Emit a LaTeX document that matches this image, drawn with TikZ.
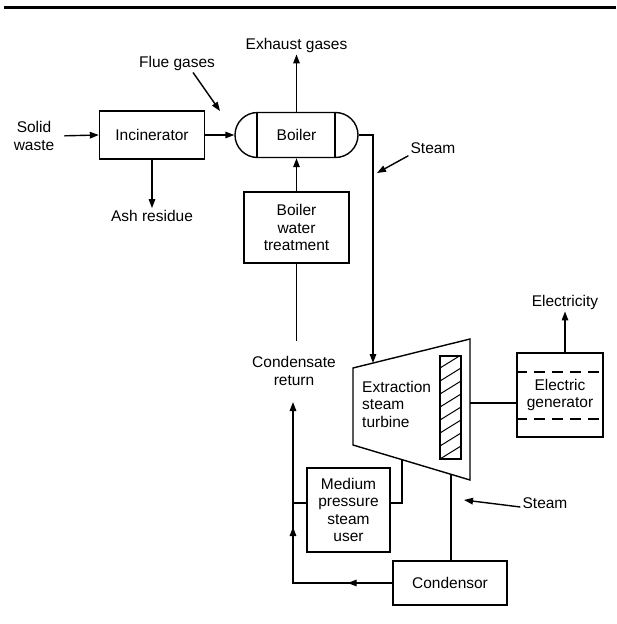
\documentclass[tikz,border=0pt]{standalone}
\usepackage{fontspec}
\setmainfont{Liberation Sans}
\usetikzlibrary{arrows.meta,positioning,calc,shapes.misc}
\tikzset{
  >={Triangle[length=9pt,width=6.5pt]},
  box/.style={draw,line width=1.4pt,align=center,inner sep=2pt},
  lab/.style={align=center,inner sep=2pt},
  flow/.style={line width=1.4pt},
  arr/.style={->,line width=1.4pt},
  gendash/.style={flow,dash pattern=on 11pt off 7pt},
}

\begin{document}
\begin{tikzpicture}[x=1pt,y=-1pt,every node/.style={font=\fontsize{15.5}{17.5}\selectfont}]
\useasboundingbox (0,0) rectangle (616,624);
\draw[line width=3pt] (4,7) -- (616,7);

% incinerator and boiler
\node[lab] (sw) at (34,136) {Solid\\waste};
\node[box,minimum width=105pt,minimum height=48pt] (inc) at (152,135) {Incinerator};
\node[box,rounded rectangle,minimum width=123pt,minimum height=45pt,inner sep=0pt] (boiler) at (296.5,135) {Boiler};
\draw[flow] ([xshift=-39.5pt]boiler.north) -- ([xshift=-39.5pt]boiler.south);
\draw[flow] ([xshift=38.5pt]boiler.north) -- ([xshift=38.5pt]boiler.south);
\node[lab] (ash) at (152,216) {Ash residue};
\node[lab] (exh) at (296.5,45) {Exhaust gases};
\node[lab] (flue) at (177,63) {Flue gases};
\coordinate (fluetip) at (220,111);
\node[box,minimum width=105pt,minimum height=71pt] (bwt) at (296.5,227.5) {Boiler\\water\\treatment};
\node[lab] (cret) at (294,371) {Condensate\\return};

\draw[arr,shorten <=8pt] (sw.east) -- (inc.west);
\draw[arr] (inc.east) -- (boiler.west);
\draw[arr] (inc.south) -- (ash.north);
\draw[arr] (boiler.north) -- (exh.south);
\draw[arr] ([xshift=16pt]flue.south) -- (fluetip);
\draw[arr] (bwt.north) -- (boiler.south);
\draw[flow] (bwt.south) -- ++(0,77);

% turbine
\coordinate (ta) at (353,368);
\coordinate (tb) at (470,339);
\coordinate (tc) at (470,480);
\coordinate (td) at (353,445);
\draw[flow] (ta) -- (tb) -- (tc) -- (td) -- cycle;
\draw[flow] (440,356) rectangle (461,459);
\begin{scope}
\clip (440,356) rectangle (461,459);
\foreach \k in {0,...,8} \draw[line width=1pt] (440,368+\k*13) -- (461,355+\k*13);
\end{scope}
\node[lab,align=left,anchor=west] (turb) at (360,404) {Extraction\\steam\\turbine};
\coordinate (tin) at (373,363);
\coordinate (tsh) at (470,403);
\coordinate (tb1) at (402,460);
\coordinate (tb2) at (451,474);

\node[lab] (st1) at (433,148) {Steam};
\coordinate (st1tip) at (377,173);
\draw[arr] (boiler.east) -| (tin);
\draw[arr] (st1.south west) -- (st1tip);

% generator
\node[box,minimum width=86pt,minimum height=84pt] (gen) at (560,395) {Electric\\generator};
\draw[gendash] ([yshift=23pt]gen.west) -- ([yshift=23pt]gen.east);
\draw[gendash] ([yshift=-24pt]gen.west) -- ([yshift=-24pt]gen.east);
\node[lab] (elec) at (565,302) {Electricity};
\draw[flow] (tsh) -- (tsh -| gen.west);
\draw[arr] (gen.north -| elec) -- (elec.south);

% steam users and condensate loop
\node[box,minimum width=83pt,minimum height=84pt] (mpsu) at (348.5,510) {Medium\\pressure\\steam\\user};
\node[box,minimum width=114pt,minimum height=44pt] (cdr) at (450,583) {Condensor};
\node[lab] (st2) at (545,503) {Steam};
\coordinate (st2tip) at (464,500);
\coordinate (lc) at (293,583);
\coordinate (jn) at (293,503);
\coordinate (rtip) at (293,402);

\draw[flow] (tb1) |- ([yshift=7pt]mpsu.east);
\draw[flow] ([yshift=7pt]mpsu.west) -- (jn);
\draw[flow] (tb2) -- (tb2 |- cdr.north);
\draw[arr] ([yshift=-4pt]st2.west) -- (st2tip);
\draw[arr] (cdr.west) -- (lc) -- (rtip);
\draw[arr] (cdr.west) -- ($(cdr.west)!0.45!(lc)$);
\draw[arr] (lc) -- ($(lc)!0.7!(jn)$);
\end{tikzpicture}
\end{document}
